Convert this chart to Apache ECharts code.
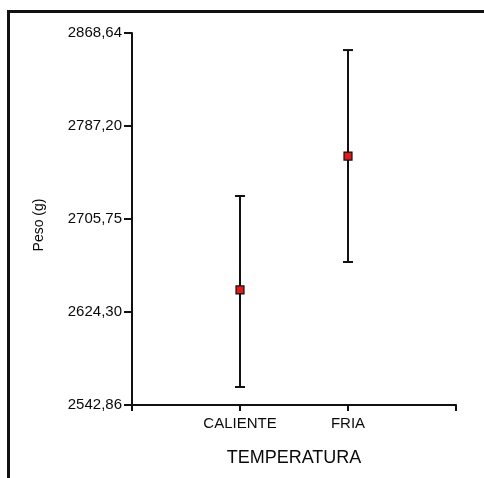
<!DOCTYPE html>
<html>
<head>
<meta charset="utf-8">
<script src="https://cdn.jsdelivr.net/npm/echarts@6/dist/echarts.min.js"></script>
<style>
  html, body { margin: 0; padding: 0; background: #fff; }
  #chart { width: 484px; height: 478px; }
</style>
</head>
<body>
<div id="chart"></div>
<script>
// Temperature groups (blank slots pad the axis at both ends)
const categories = ['', 'CALIENTE', 'FRIA', ''];
const groups = ['CALIENTE', 'FRIA'];
// Mean weight and interval bounds per group, in grams
const means = [2643.6, 2760.9];
const lowers = [2558.6, 2668.1];
const uppers = [2725.9, 2853.7];
// Y axis tick positions and their printed labels
const yTicks = [2542.86, 2624.30, 2705.75, 2787.20, 2868.64];
const yTickLabels = ['2542,86', '2624,30', '2705,75', '2787,20', '2868,64'];

const chart = echarts.init(document.getElementById('chart'), null, { renderer: 'canvas' });

const data = groups.map((g, i) => [categories.indexOf(g), means[i], lowers[i], uppers[i]]);

const labelFont = { fontFamily: 'Liberation Sans', color: '#0a0a0a' };

chart.setOption({
  animation: false,
  backgroundColor: '#fff',
  graphic: [{
    type: 'rect',
    shape: { x: 8.5, y: 11.5, width: 600, height: 600 },
    style: { fill: 'none', stroke: '#111', lineWidth: 3 },
    silent: true
  }],
  grid: { left: 132, right: 28, top: 33, bottom: 73, containLabel: false },
  xAxis: {
    type: 'category',
    data: categories,
    boundaryGap: false,
    name: 'TEMPERATURA',
    nameLocation: 'middle',
    nameGap: 44,
    nameTextStyle: Object.assign({ fontSize: 18 }, labelFont),
    axisLine: { lineStyle: { color: '#111', width: 2 } },
    axisTick: { show: true, inside: false, length: 6, alignWithLabel: true, interval: 0, lineStyle: { color: '#111', width: 2 } },
    axisLabel: Object.assign({ fontSize: 15, margin: 11, interval: 0 }, labelFont),
    splitLine: { show: false }
  },
  yAxis: {
    type: 'value',
    min: yTicks[0],
    max: yTicks[yTicks.length - 1],
    name: 'Peso (g)',
    nameLocation: 'middle',
    nameRotate: 90,
    nameGap: 86,
    nameTextStyle: Object.assign({ fontSize: 14, padding: [0, 12, 0, 0] }, labelFont),
    axisLine: { show: true, lineStyle: { color: '#111', width: 2 } },
    axisTick: { show: true, length: 8, customValues: yTicks, lineStyle: { color: '#111', width: 2 } },
    axisLabel: Object.assign({
      fontSize: 15,
      margin: 10,
      customValues: yTicks,
      formatter: function (v) {
        let best = 0;
        for (let i = 1; i < yTicks.length; i++) {
          if (Math.abs(yTicks[i] - v) < Math.abs(yTicks[best] - v)) best = i;
        }
        return yTickLabels[best];
      }
    }, labelFont),
    splitLine: { show: false }
  },
  series: [{
    type: 'custom',
    data: data,
    encode: { x: 0, y: [1, 2, 3] },
    renderItem: function (params, api) {
      const x = api.value(0);
      const mid = api.coord([x, api.value(1)]);
      const lo = api.coord([x, api.value(2)]);
      const hi = api.coord([x, api.value(3)]);
      const cap = 5;
      const sq = 4;
      const stroke = { stroke: '#111', lineWidth: 2 };
      return {
        type: 'group',
        children: [
          { type: 'line', shape: { x1: mid[0], y1: lo[1], x2: mid[0], y2: hi[1] }, style: stroke },
          { type: 'line', shape: { x1: mid[0] - cap, y1: hi[1], x2: mid[0] + cap, y2: hi[1] }, style: stroke },
          { type: 'line', shape: { x1: mid[0] - cap, y1: lo[1], x2: mid[0] + cap, y2: lo[1] }, style: stroke },
          { type: 'rect', shape: { x: mid[0] - sq, y: mid[1] - sq, width: sq * 2, height: sq * 2 },
            style: { fill: '#e01b1b', stroke: '#111', lineWidth: 1.2 } }
        ]
      };
    }
  }]
});
</script>
</body>
</html>
